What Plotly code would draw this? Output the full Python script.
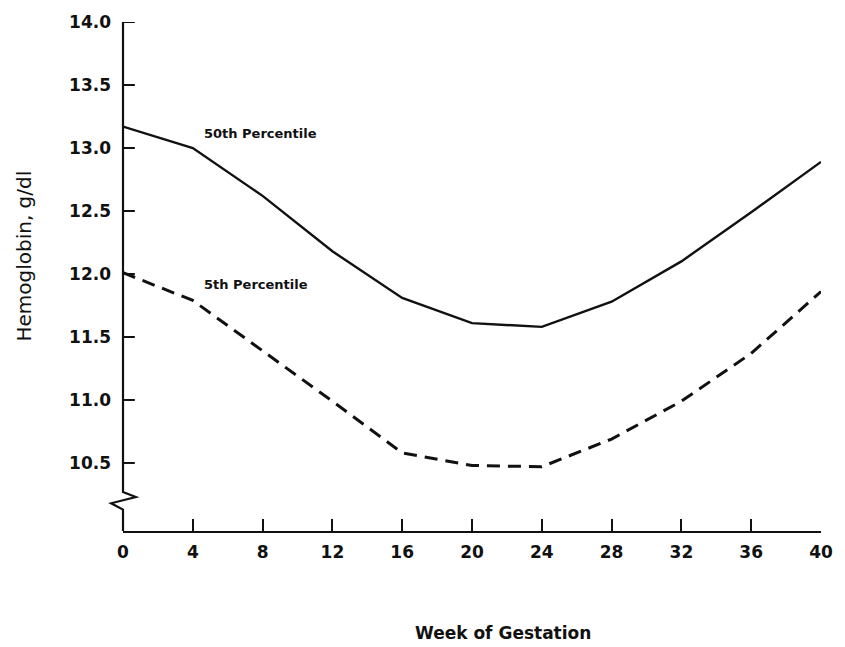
import plotly.graph_objects as go

weeks = [0, 4, 8, 12, 16, 20, 24, 28, 32, 36, 40]
p50 = [13.17, 13.0, 12.62, 12.18, 11.81, 11.61, 11.58, 11.78, 12.10, 12.49, 12.89]
p5 = [12.01, 11.79, 11.39, 10.99, 10.58, 10.48, 10.47, 10.69, 10.99, 11.37, 11.86]
x_ticks = [0, 4, 8, 12, 16, 20, 24, 28, 32, 36, 40]
y_ticks = [10.5, 11.0, 11.5, 12.0, 12.5, 13.0, 13.5, 14.0]

Y_MIN, Y_MAX = 9.96, 14.0
X_MIN, X_MAX = 0, 40
INK = "#111111"
FONT = "DejaVu Sans"
PLOT_W = 845 - 123 - 14

fig = go.Figure()
fig.add_trace(go.Scatter(x=weeks, y=p50, mode="lines",
                         line=dict(color=INK, width=2.4), showlegend=False))
fig.add_trace(go.Scatter(x=weeks, y=p5, mode="lines",
                         line=dict(color=INK, width=3, dash="13px,8px"), showlegend=False))

def py(v):
    return (v - Y_MIN) / (Y_MAX - Y_MIN)

# y-axis line with break symbol
path = (f"M 0,{py(14.0)} L 0,{py(10.27)} L 0.0184,{py(10.23)} "
        f"L -0.017,{py(10.18)} L 0,{py(10.13)} L 0,0")
fig.add_shape(type="path", path=path, xref="paper", yref="paper",
              line=dict(color=INK, width=2.2), layer="above")

# inward y tick marks
for v in y_ticks:
    fig.add_shape(type="line", xref="paper", yref="y", x0=0, x1=12 / PLOT_W,
                  y0=v, y1=v, line=dict(color=INK, width=2), layer="above")

fig.add_annotation(x=4.52, y=13.115, xref="x", yref="y", text="50th Percentile",
                   showarrow=False, xanchor="left", yanchor="middle",
                   font=dict(family=FONT, size=13, color=INK, weight="bold"))
fig.add_annotation(x=4.52, y=11.92, xref="x", yref="y", text="5th Percentile",
                   showarrow=False, xanchor="left", yanchor="middle",
                   font=dict(family=FONT, size=13, color=INK, weight="bold"))

fig.add_annotation(x=-0.1412, y=0.540, xref="paper", yref="paper",
                   text="Hemoglobin, g/dl", textangle=-90, showarrow=False,
                   xanchor="center", yanchor="middle",
                   font=dict(family=FONT, size=20, color=INK))
fig.add_annotation(x=0.545, y=-0.1996, xref="paper", yref="paper",
                   text="Week of Gestation", showarrow=False,
                   xanchor="center", yanchor="middle",
                   font=dict(family=FONT, size=17, color=INK, weight="bold"))

fig.update_xaxes(range=[X_MIN, X_MAX], tickvals=x_ticks, ticks="inside", ticklen=12,
                 tickwidth=2, tickcolor=INK, showline=True, linecolor=INK, linewidth=2.2,
                 showgrid=False, zeroline=False, ticklabelstandoff=4,
                 tickfont=dict(family=FONT, size=17, color=INK, weight="bold"))
fig.update_yaxes(range=[Y_MIN, Y_MAX], tickvals=y_ticks, tickformat=".1f", ticks="",
                 showline=False, showgrid=False, zeroline=False, ticklabelstandoff=11,
                 tickfont=dict(family=FONT, size=17, color=INK, weight="bold"))

fig.update_layout(width=845, height=647, margin=dict(l=123, r=14, t=20, b=116),
                  plot_bgcolor="white", paper_bgcolor="white")

fig.write_html("out.html")
